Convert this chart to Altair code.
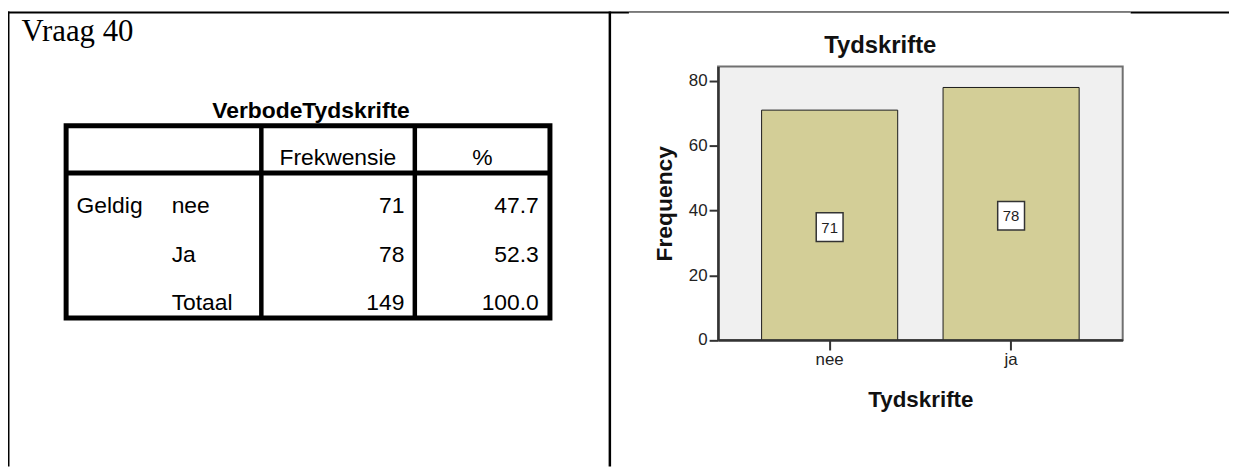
import altair as alt
import pandas as pd

# ---------------- data ----------------
question = "Vraag 40"
table_title = "VerbodeTydskrifte"
table_header = ["Frekwensie", "%"]
row_group = "Geldig"
table_rows = ["nee", "Ja", "Totaal"]
table_freq = ["71", "78", "149"]
table_pct = ["47.7", "52.3", "100.0"]

chart_title = "Tydskrifte"
bar_categories = ["nee", "ja"]
bar_frequencies = [71, 78]
y_ticks = [0, 20, 40, 60, 80]
y_title = "Frequency"
x_title = "Tydskrifte"

# ---------------- layout constants ----------------
W, H = 1229, 460
FONT = "Liberation Sans"
one = pd.DataFrame({"k": [0]})


def rule(x, x2, y, y2, width, color="black", cap="butt"):
    return alt.Chart(one).mark_rule(color=color, strokeWidth=width, strokeCap=cap).encode(
        x=alt.value(x), x2=alt.value(x2), y=alt.value(y), y2=alt.value(y2))


def label(text, x, y, size, weight="normal", align="left", font=FONT, color="black"):
    return alt.Chart(pd.DataFrame({"t": [text]})).mark_text(
        font=font, fontSize=size, fontWeight=weight, align=align,
        baseline="alphabetic", color=color).encode(
        x=alt.value(x), y=alt.value(y), text="t:N")


# ---------------- document frame ----------------
frame = [
    rule(0, 625, 3, 3, 2),
    rule(625, 1130, 2.5, 2.5, 1),
    rule(1130, W, 3, 3, 2),
    rule(0.75, 0.75, 2, H, 1.5),
    rule(605.8, 605.8, 2, H, 2.5),
    label(question, 13.7, 32, 31, font="Liberation Serif"),
]

# ---------------- table ----------------
rows_order = ["head"] + table_rows
yrow = alt.Y("row:N", scale=alt.Scale(type="point", domain=rows_order, range=[157, 302], padding=0), axis=None)

tdf = pd.DataFrame({"row": table_rows, "freq": table_freq, "pct": table_pct})
hdf = pd.DataFrame({"row": ["head"], "f": [table_header[0]], "p": [table_header[1]]})
gdf = pd.DataFrame({"row": [table_rows[0]], "g": [row_group]})

txt = dict(font=FONT, fontSize=23, baseline="alphabetic", color="black")

table = alt.layer(
    alt.Chart(one).mark_rect(fill=None, stroke="black", strokeWidth=5).encode(
        x=alt.value(58.5), x2=alt.value(545.5), y=alt.value(117), y2=alt.value(310.5)),
    rule(58.5, 545.5, 164.5, 164.5, 5),
    rule(255, 255, 117, 310.5, 4.5),
    rule(409.5, 409.5, 117, 310.5, 4.5),
    label(table_title, 305, 109.3, 23, weight="bold", align="center"),
    alt.Chart(hdf).mark_text(align="center", **txt).encode(x=alt.value(332), y=yrow, text="f:N"),
    alt.Chart(hdf).mark_text(align="center", **txt).encode(x=alt.value(477.5), y=yrow, text="p:N"),
    alt.Chart(gdf).mark_text(align="left", **txt).encode(x=alt.value(69), y=yrow, text="g:N"),
    alt.Chart(tdf).mark_text(align="left", **txt).encode(x=alt.value(164.7), y=yrow, text="row:N"),
    alt.Chart(tdf).mark_text(align="right", **txt).encode(x=alt.value(399), y=yrow, text="freq:N"),
    alt.Chart(tdf).mark_text(align="right", **txt).encode(x=alt.value(534.3), y=yrow, text="pct:N"),
)

# ---------------- bar chart ----------------
PX0, PX1, PY0, PY1 = 714.7, 1122.0, 57.3, 332.7
bdf = pd.DataFrame({"cat": bar_categories, "freq": bar_frequencies})

x_axis = alt.Axis(orient="bottom", offset=PY1 - H, title=x_title, titleY=67,
                  titleBaseline="alphabetic", titleFontSize=22.5, labelAngle=0,
                  tickSize=10, labelPadding=2, zindex=1)
y_axis = alt.Axis(orient="left", offset=-PX0, values=y_ticks, title=y_title, titleX=-53.7,
                  titleBaseline="middle", titleFontSize=23, tickSize=9, labelPadding=2,
                  zindex=1)

xs = alt.X("cat:N", sort=bar_categories,
           scale=alt.Scale(domain=bar_categories, range=[PX0, PX1], paddingInner=0.25, paddingOuter=0.24),
           axis=x_axis)
yscale = alt.Scale(domain=[0, 84.5], range=[PY1, PY0], nice=False, zero=True)

box_path = "M-1,-1.07H1V1.07H-1Z"

bars = alt.layer(
    alt.Chart(one).mark_rect(fill="#f0f0f0", stroke="#707070", strokeWidth=2).encode(
        x=alt.value(PX0), x2=alt.value(PX1), y=alt.value(PY0), y2=alt.value(PY1)),
    alt.Chart(bdf).mark_bar(fill="#d3ce97", stroke="#1a1a1a", strokeWidth=1).encode(
        x=xs, y=alt.Y("freq:Q", scale=yscale, axis=y_axis)),
    alt.Chart(bdf).transform_calculate(mid="datum.freq / 2").mark_point(
        shape=box_path, size=729, filled=True, fill="white", stroke="#333333",
        strokeWidth=1.5, opacity=1, yOffset=2).encode(
        x=xs, y=alt.Y("mid:Q", scale=yscale, axis=y_axis)),
    alt.Chart(bdf).transform_calculate(mid="datum.freq / 2").mark_text(
        font=FONT, fontSize=15, color="#222222", baseline="middle", yOffset=2.5).encode(
        x=xs, y=alt.Y("mid:Q", scale=yscale, axis=y_axis), text="freq:Q"),
    label(chart_title, 878, 44, 24, weight="bold", align="center", color="#111111"),
)

chart = alt.layer(*frame, table, bars).resolve_scale(
    x="independent", y="independent"
).properties(
    width=W, height=H, autosize=alt.AutoSizeParams(type="none"), padding=0,
    background="white"
).configure_view(stroke=None).configure_axis(
    grid=False, labelFont=FONT, labelFontSize=17, labelColor="#222222",
    titleFont=FONT, titleFontSize=22, titleFontWeight="bold", titleColor="#111111",
    tickColor="#333333", tickWidth=2, domainColor="#333333", domainWidth=2.5,
)

chart.save("out.html", embed_options={"renderer": "svg", "actions": False})
